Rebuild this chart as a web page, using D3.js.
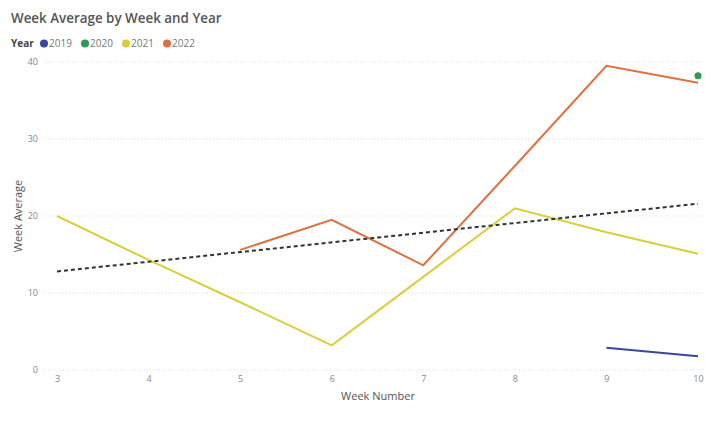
<!DOCTYPE html>
<html><head><meta charset="utf-8">
<script src="https://cdn.jsdelivr.net/npm/d3@7"></script>
<style>body{margin:0;background:#fff}svg{display:block;font-family:"Open Sans",sans-serif}</style>
</head><body><svg id="c" width="720" height="430"></svg>
<script>
const weeks = [3,4,5,6,7,8,9,10];
const years = ["2019","2020","2021","2022"];
const colors = ["#3a47a0","#2e9a55","#d9cf3a","#e0703c"];
const s2019 = [null,null,null,null,null,null,2.9,1.8];
const s2020 = [null,null,null,null,null,null,null,38.2];
const s2021 = [20,14.3,8.8,3.2,12.1,21,17.9,15.1];
const s2022 = [null,null,15.6,19.5,13.6,26.5,39.5,37.3];
const trend = [12.8,21.6];
const yTicks = [0,10,20,30,40];
const series = [s2019,s2020,s2021,s2022];

const svg = d3.select("#c");
const x = d3.scaleLinear().domain([3,10]).range([57,698]);
const y = d3.scaleLinear().domain([0,40]).range([370,62]);

svg.append("text").attr("x",11).attr("y",23).attr("font-size",13.4).attr("font-weight",600).attr("fill","#555").text("Week Average by Week and Year");

// legend
const lg = svg.append("g").attr("transform","translate(11,47)");
lg.append("text").attr("x",0).attr("y",0).attr("font-size",10).attr("font-weight","bold").attr("fill","#444").text("Year");
let lx = 28;
years.forEach((yr,i)=>{
  lg.append("circle").attr("cx",lx+5).attr("cy",-3.5).attr("r",4).attr("fill",colors[i]);
  lg.append("text").attr("x",lx+10).attr("y",0).attr("font-size",10).attr("fill","#777").text(yr);
  lx += 41;
});

// grid
svg.append("g").selectAll("line").data(yTicks).join("line")
  .attr("x1",45).attr("x2",705).attr("y1",d=>y(d)).attr("y2",d=>y(d))
  .attr("stroke","#ddd").attr("stroke-dasharray","1,2");

// y axis
const ya = svg.append("g").attr("transform","translate(38,0)")
  .call(d3.axisLeft(y).tickValues(yTicks).tickSize(0).tickPadding(0));
ya.select(".domain").remove();
ya.selectAll("text").attr("font-size",9).attr("fill","#888").attr("font-family","Open Sans");

// x axis
const xa = svg.append("g").attr("transform","translate(0,373)")
  .call(d3.axisBottom(x).tickValues(weeks).tickSize(0).tickPadding(3).tickFormat(d3.format("d")));
xa.select(".domain").remove();
xa.selectAll("text").attr("font-size",9).attr("fill","#888").attr("font-family","Open Sans");

svg.append("text").attr("x",378).attr("y",400).attr("text-anchor","middle").attr("font-size",11).attr("fill","#555").text("Week Number");
svg.append("text").attr("transform","translate(22,216) rotate(-90)").attr("text-anchor","middle").attr("font-size",11).attr("fill","#555").text("Week Average");

// lines
const line = d3.line().defined(d=>d.v!=null).x(d=>x(d.w)).y(d=>y(d.v));
series.forEach((s,i)=>{
  const pts = weeks.map((w,j)=>({w,v:s[j]}));
  const n = pts.filter(p=>p.v!=null).length;
  if(n>1){
    svg.append("path").datum(pts).attr("d",line).attr("fill","none").attr("stroke",colors[i]).attr("stroke-width",2);
  } else {
    svg.selectAll(null).data(pts.filter(p=>p.v!=null)).join("circle")
      .attr("cx",d=>x(d.w)).attr("cy",d=>y(d.v)).attr("r",3.5).attr("fill",colors[i]);
  }
});

// trend
svg.append("line").attr("x1",x(3)).attr("x2",x(10)).attr("y1",y(trend[0])).attr("y2",y(trend[1]))
  .attr("stroke","#333").attr("stroke-width",2).attr("stroke-dasharray","4,3");
</script></body></html>
